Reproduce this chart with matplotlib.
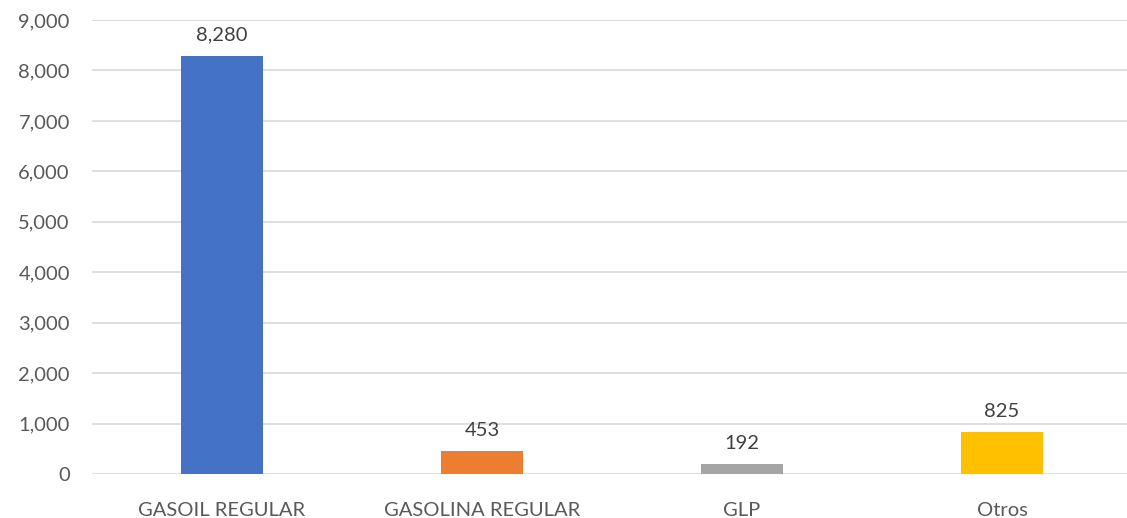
import matplotlib
matplotlib.use("Agg")
import matplotlib.pyplot as plt
from matplotlib.ticker import FuncFormatter

categorias = ['GASOIL REGULAR', 'GASOLINA REGULAR', 'GLP', 'Otros']
valores = [8280, 453, 192, 825]
colores = ['#4472C4', '#ED7D31', '#A5A5A5', '#FFC000']

plt.rcParams['font.family'] = ['Lato', 'DejaVu Sans']

fig = plt.figure(figsize=(11.27, 5.18), dpi=100)
ax = fig.add_axes([92 / 1127, 44 / 518, 1040 / 1127, 454 / 518])

x = range(len(categorias))
ax.bar(x, valores, width=0.315, color=colores, zorder=3)
for xi, v in zip(x, valores):
    ax.text(xi, v + 250, f'{v:,}', ha='center', va='bottom', fontsize=14.5, color='#404040')

ax.set_xlim(-0.5, len(categorias) - 0.5)
ax.set_ylim(0, 9000)
ax.set_yticks(range(0, 9001, 1000))
ax.yaxis.set_major_formatter(FuncFormatter(lambda v, p: f'{int(v):,}'))
ax.set_xticks(list(x))
ax.set_xticklabels(categorias)
ax.grid(axis='y', color='#d9d9d9', linewidth=1.2, zorder=0)
for s in ax.spines.values():
    s.set_visible(False)
ax.tick_params(axis='both', length=0, labelsize=14.5, colors='#595959')
ax.tick_params(axis='y', pad=16)
ax.tick_params(axis='x', pad=20)

fig.savefig('out.png', dpi=100)
